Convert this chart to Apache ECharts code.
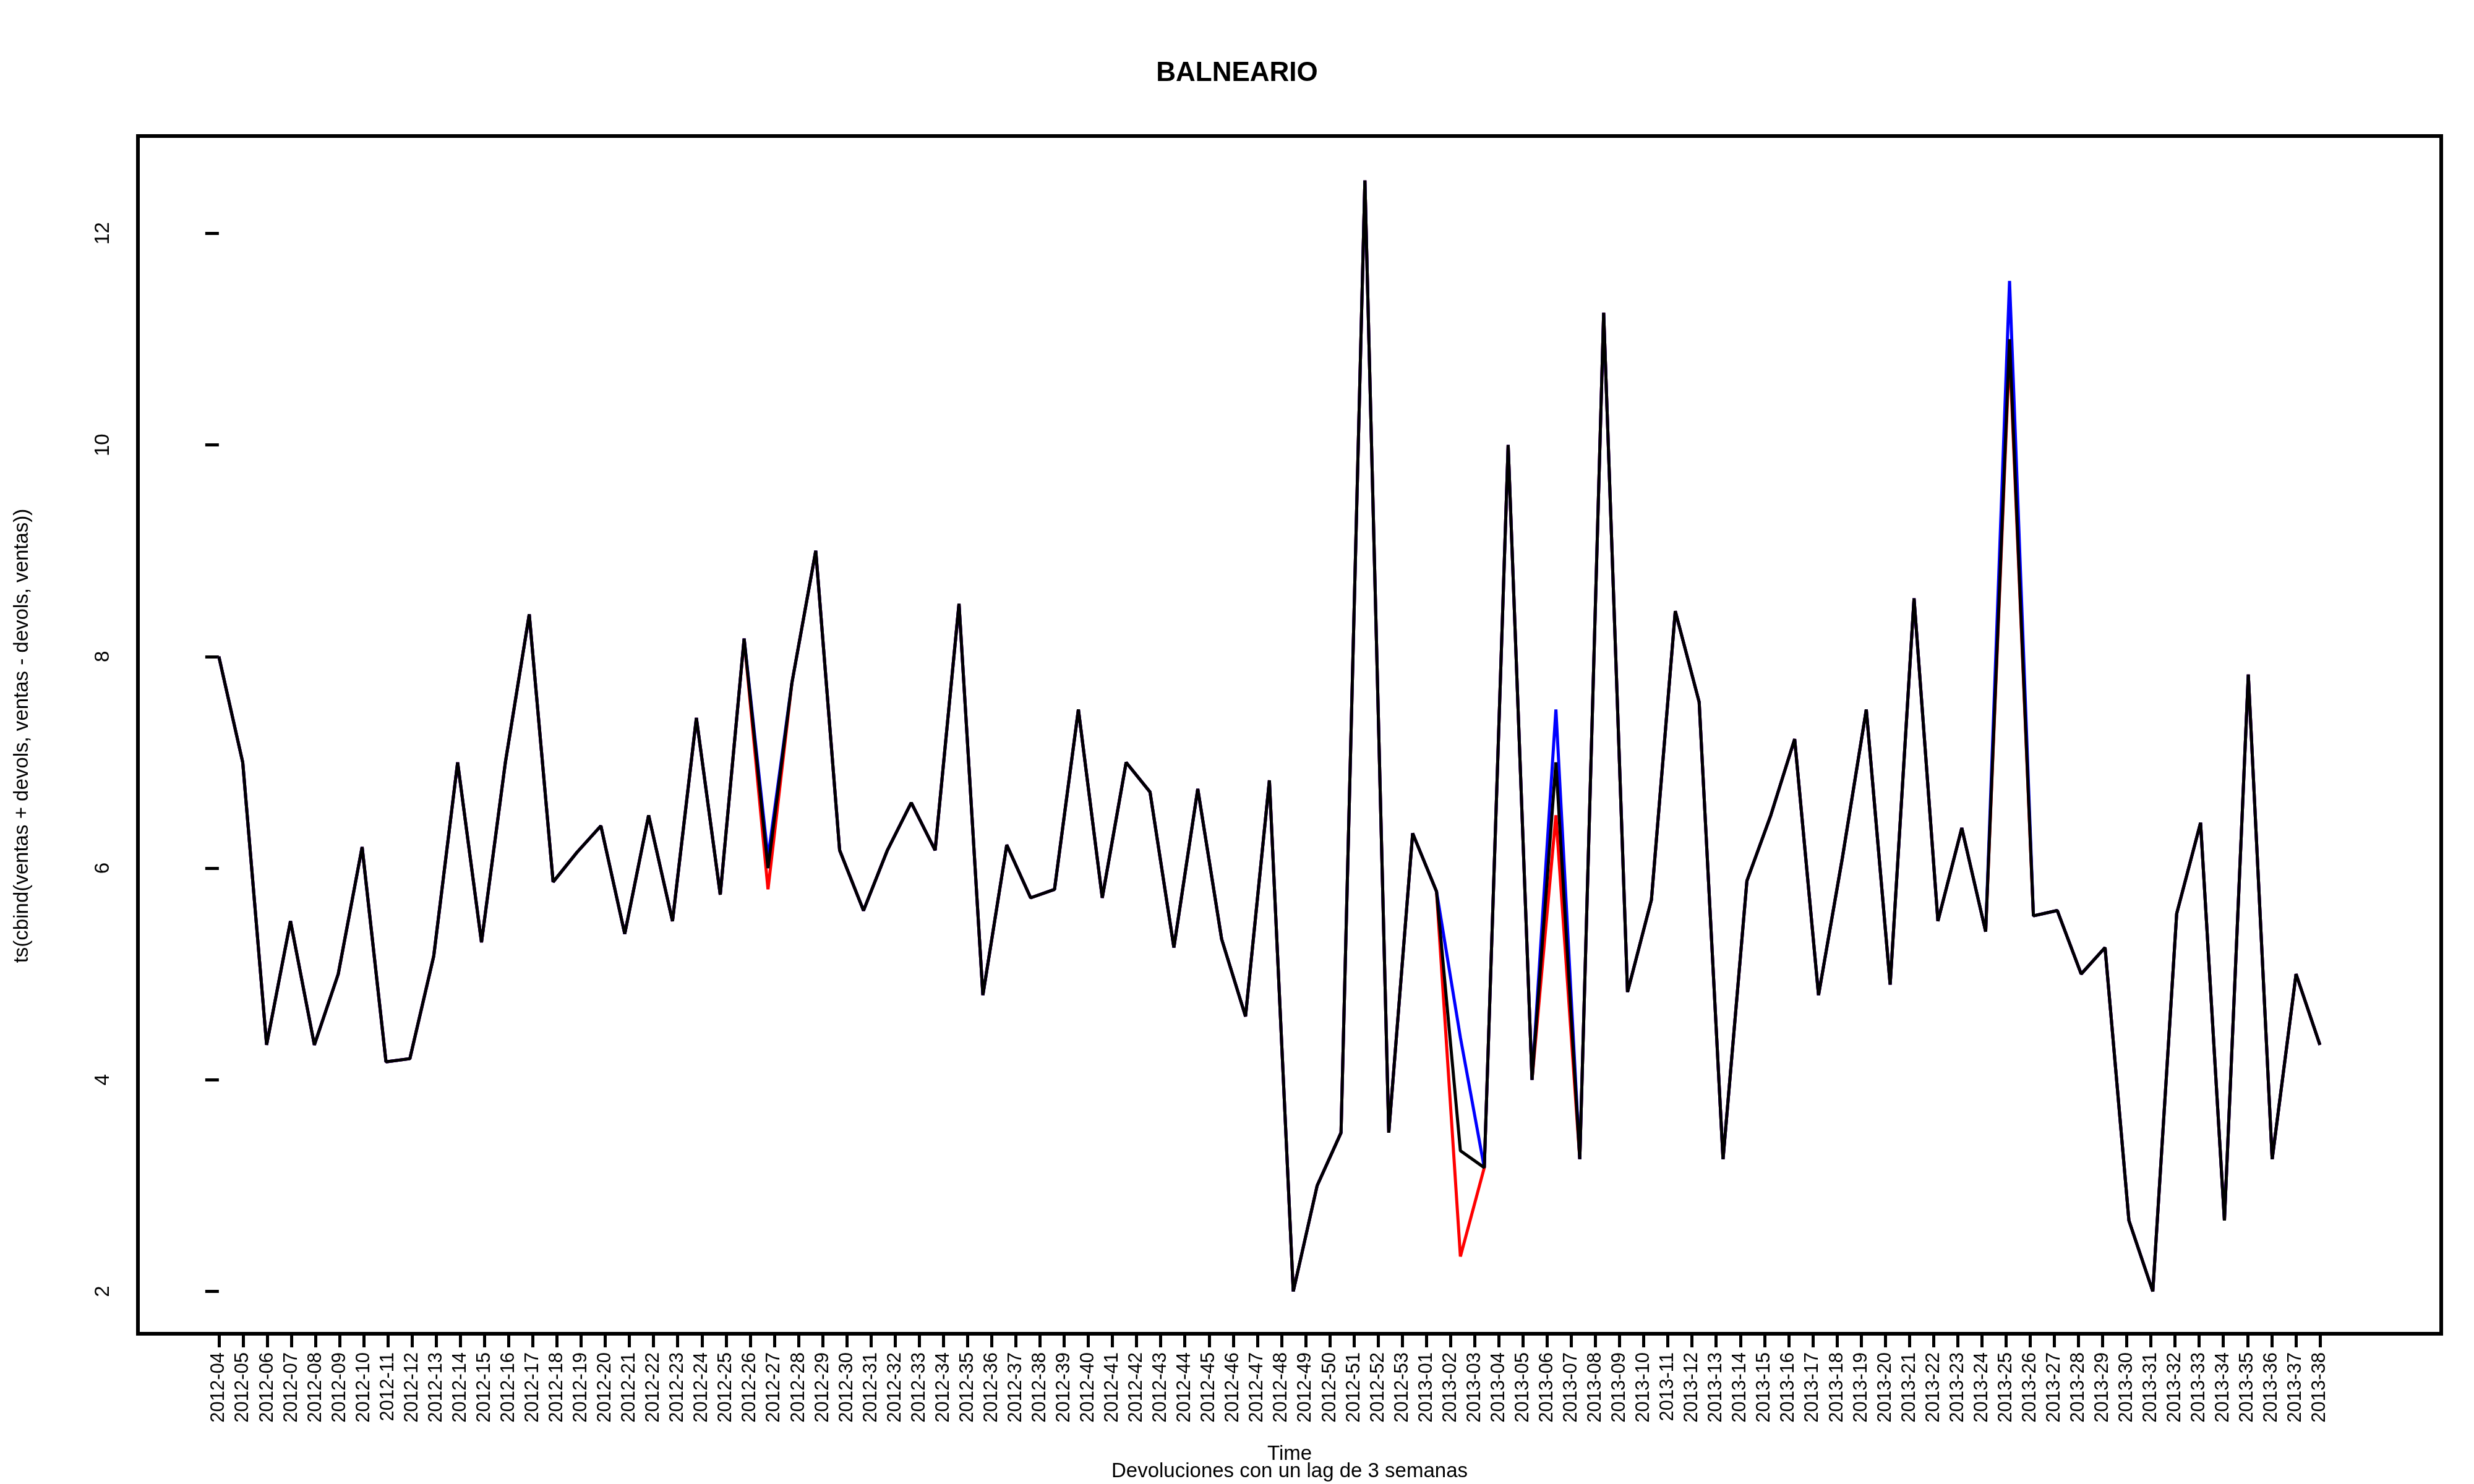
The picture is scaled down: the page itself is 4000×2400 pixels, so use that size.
<!DOCTYPE html>
<html>
<head>
<meta charset="utf-8">
<script src="https://cdn.jsdelivr.net/npm/echarts@6/dist/echarts.min.js"></script>
<style>html,body{margin:0;padding:0;background:#fff}#main{width:4000px;height:2400px}</style>
</head>
<body>
<div id="main"></div>
<script>
// week labels on the x axis
var weekLabels = [];
for (var w = 4; w <= 53; w++) weekLabels.push('2012-' + (w < 10 ? '0' + w : w));
for (var w2 = 1; w2 <= 38; w2++) weekLabels.push('2013-' + (w2 < 10 ? '0' + w2 : w2));

// ventas (black)
var ventas = [8, 7, 4.33, 5.5, 4.33, 5, 6.2, 4.17, 4.2, 5.17, 7, 5.3, 7, 8.4, 5.87, 6.15, 6.4, 5.38, 6.5, 5.5,
  7.42, 5.75, 8.17, 6, 7.75, 9, 6.17, 5.6, 6.17, 6.62, 6.17, 8.5, 4.8, 6.22, 5.72, 5.8, 7.5, 5.72, 7, 6.72,
  5.25, 6.75, 5.33, 4.6, 6.83, 2, 3, 3.5, 12.5, 3.5, 6.33, 5.78, 3.33, 3.17, 10, 4, 7, 3.25, 11.25, 4.83,
  5.7, 8.43, 7.57, 3.25, 5.88, 6.5, 7.22, 4.8, 6.1, 7.5, 4.9, 8.55, 5.5, 6.38, 5.4, 11, 5.55, 5.6, 5, 5.25,
  2.67, 2, 5.57, 6.43, 2.67, 7.83, 3.25, 5, 4.33];
// ventas + devols (blue), ventas - devols (red): only differ at a few weeks
var masDevols = ventas.slice();
masDevols[23] = 6.1; masDevols[52] = 4.4; masDevols[56] = 7.5; masDevols[75] = 11.55;
var menosDevols = ventas.slice();
menosDevols[23] = 5.8; menosDevols[52] = 2.33; menosDevols[56] = 6.5; menosDevols[75] = 10.9;

var yTicks = [2, 4, 6, 8, 10, 12];
var nPts = ventas.length;
var step = (nPts - 1) / (weekLabels.length - 1);
var xTicks = weekLabels.map(function(l, i) { return i * step; });

function pts(arr) { return arr.map(function(v, i) { return [i, v]; }); }

var font = 'Liberation Sans, Arial, sans-serif';
var chart = echarts.init(document.getElementById('main'));
chart.setOption({
  backgroundColor: '#fff',
  animation: false,
  title: {
    text: 'BALNEARIO', left: 'center', top: 92,
    textStyle: { fontFamily: font, fontWeight: 'bold', fontSize: 44, color: '#000' }
  },
  grid: { left: 223, right: 53, top: 220, bottom: 243, show: true, borderColor: '#000', borderWidth: 6 },
  xAxis: {
    type: 'value', min: -3.39, max: 93.08,
    axisLine: { show: false }, splitLine: { show: false },
    axisTick: { show: true, customValues: xTicks, length: 22, lineStyle: { color: '#000', width: 5 } },
    axisLabel: {
      customValues: xTicks, rotate: 90, margin: 30, fontFamily: font, fontSize: 31, color: '#000',
      formatter: function(v) { return weekLabels[Math.round(v / step)]; }
    }
  },
  yAxis: {
    type: 'value', min: 1.6, max: 12.92,
    axisLine: { show: false }, splitLine: { show: false },
    axisTick: { show: true, customValues: yTicks, length: 22, lineStyle: { color: '#000', width: 5 } },
    axisLabel: { customValues: yTicks, rotate: 90, margin: 40, fontFamily: font, fontSize: 33, color: '#000' }
  },
  graphic: [
    { type: 'text', left: 20, top: 1190, rotation: Math.PI / 2,
      style: { text: 'ts(cbind(ventas + devols, ventas - devols, ventas))', font: '33px ' + font, fill: '#000', align: 'center', verticalAlign: 'middle' },
      x: 36, y: 1190, left: null, top: null },
    { type: 'text', x: 2085, y: 2352, style: { text: 'Time', font: '33px ' + font, fill: '#000', align: 'center', verticalAlign: 'middle' } },
    { type: 'text', x: 2085, y: 2380, style: { text: 'Devoluciones con un lag de 3 semanas', font: '33px ' + font, fill: '#000', align: 'center', verticalAlign: 'middle' } }
  ],
  series: [
    { name: 'ventas - devols', type: 'line', data: pts(menosDevols), showSymbol: false, lineStyle: { color: '#ff0000', width: 5 } },
    { name: 'ventas + devols', type: 'line', data: pts(masDevols), showSymbol: false, lineStyle: { color: '#0000ff', width: 5 } },
    { name: 'ventas', type: 'line', data: pts(ventas), showSymbol: false, lineStyle: { color: '#000', width: 5 } }
  ]
});
</script>
</body>
</html>
